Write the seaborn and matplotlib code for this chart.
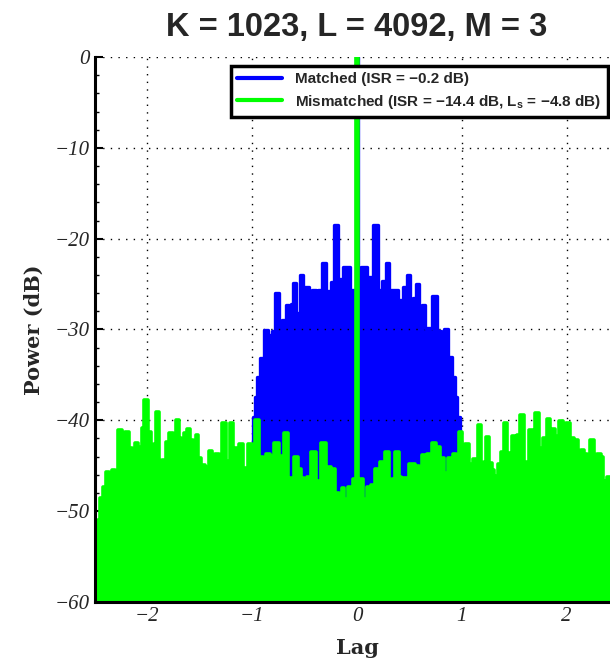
import numpy as np
import pandas as pd
import matplotlib
matplotlib.use("Agg")
import matplotlib.pyplot as plt
import seaborn as sns
from matplotlib.lines import Line2D

# matched filter output (blue)
matched_lag = [-1.000, -0.984, -0.960, -0.940, -0.910, -0.872, -0.831, -0.799, -0.764, -0.723,
               -0.700, -0.662, -0.640, -0.620, -0.599, -0.564, -0.525, -0.505, -0.481, -0.442,
               -0.408, -0.379, -0.357, -0.315, -0.267, -0.229, -0.201, -0.162, -0.099, -0.041,
               -0.016, 0.000, 0.016, 0.060, 0.131, 0.181, 0.229, 0.255, 0.290, 0.325,
               0.365, 0.420, 0.458, 0.497, 0.522, 0.545, 0.573, 0.605, 0.640, 0.665,
               0.697, 0.739, 0.783, 0.815, 0.847, 0.888, 0.923, 0.949, 0.962, 1.000]
matched_db = [-60.0, -39.6, -37.4, -35.2, -33.1, -30.1, -30.6, -30.2, -26.0, -29.3,
              -29.0, -27.3, -29.3, -27.2, -24.9, -28.2, -24.0, -28.2, -25.3, -26.5,
              -25.6, -27.7, -25.6, -22.7, -25.8, -24.8, -18.5, -24.4, -23.1, -25.7,
              -26.0, 0.0, -26.0, -23.1, -24.2, -18.5, -25.7, -24.7, -22.7, -25.6,
              -25.6, -26.8, -25.3, -24.0, -28.0, -26.5, -25.0, -29.3, -27.3, -29.8,
              -29.8, -26.3, -30.2, -30.7, -30.0, -33.0, -35.2, -37.4, -39.6, -60.0]

# mismatched filter output (green)
mismatched_lag = [-2.500, -2.485, -2.465, -2.445, -2.407, -2.378, -2.353, -2.327, -2.299, -2.264,
                  -2.229, -2.190, -2.155, -2.130, -2.104, -2.066, -2.044, -2.018, -1.977, -1.952,
                  -1.929, -1.897, -1.872, -1.843, -1.808, -1.773, -1.745, -1.716, -1.684, -1.665,
                  -1.636, -1.605, -1.576, -1.547, -1.525, -1.500, -1.468, -1.430, -1.394, -1.366,
                  -1.340, -1.302, -1.270, -1.235, -1.197, -1.172, -1.149, -1.111, -1.063, -1.015,
                  -0.990, -0.955, -0.907, -0.880, -0.857, -0.812, -0.767, -0.720, -0.672, -0.649,
                  -0.621, -0.586, -0.548, -0.513, -0.490, -0.458, -0.411, -0.380, -0.360, -0.322,
                  -0.271, -0.230, -0.188, -0.162, -0.131, -0.108, -0.064, -0.020, 0.000, 0.020,
                  0.035, 0.080, 0.108, 0.120, 0.150, 0.194, 0.239, 0.290, 0.325, 0.347,
                  0.385, 0.410, 0.430, 0.474, 0.522, 0.576, 0.600, 0.640, 0.688, 0.735,
                  0.777, 0.812, 0.844, 0.891, 0.936, 0.962, 0.990, 1.016, 1.054, 1.089,
                  1.127, 1.175, 1.200, 1.216, 1.248, 1.280, 1.300, 1.309, 1.328, 1.359,
                  1.385, 1.414, 1.445, 1.468, 1.497, 1.519, 1.541, 1.570, 1.614, 1.662,
                  1.691, 1.716, 1.757, 1.796, 1.831, 1.850, 1.875, 1.910, 1.948, 1.977,
                  2.015, 2.053, 2.098, 2.124, 2.146, 2.181, 2.200, 2.241, 2.276, 2.308,
                  2.340, 2.359, 2.369, 2.400, 2.430, 2.460, 2.485, 2.500]
mismatched_db = [-60.0, -56.0, -51.0, -48.6, -47.3, -45.7, -47.2, -45.5, -48.0, -41.1,
                 -42.2, -41.3, -43.1, -43.3, -42.5, -42.9, -40.9, -37.8, -41.3, -44.2,
                 -42.6, -39.1, -45.5, -44.4, -42.4, -41.4, -42.9, -40.0, -42.0, -44.6,
                 -41.4, -41.0, -42.2, -44.5, -41.6, -44.2, -44.9, -45.1, -43.4, -45.1,
                 -43.7, -44.9, -40.3, -44.5, -40.3, -47.5, -43.1, -42.6, -45.3, -42.6,
                 -43.5, -40.0, -44.0, -46.9, -43.7, -43.9, -42.5, -43.9, -41.4, -46.9,
                 -46.4, -44.0, -45.4, -46.4, -47.3, -46.2, -43.5, -46.9, -46.7, -42.5,
                 -45.1, -45.4, -48.0, -48.8, -47.5, -48.7, -47.3, -46.5, 0.0, -46.8,
                 -46.5, -48.7, -47.3, -50.5, -47.1, -45.4, -44.6, -43.5, -47.3, -46.5,
                 -43.5, -46.2, -46.3, -46.4, -44.8, -45.0, -46.1, -43.8, -43.7, -42.5,
                 -42.9, -44.2, -45.8, -44.2, -43.7, -44.9, -41.3, -45.5, -42.6, -44.8,
                 -44.3, -40.5, -46.2, -44.6, -41.8, -44.7, -45.5, -47.3, -46.1, -44.8,
                 -43.5, -40.3, -43.6, -44.9, -41.7, -43.4, -41.6, -39.4, -44.6, -41.1,
                 -43.1, -39.2, -43.1, -42.0, -39.8, -41.9, -41.0, -41.7, -40.1, -43.1,
                 -40.3, -41.9, -42.2, -44.7, -43.3, -43.7, -45.3, -42.2, -45.1, -43.7,
                 -44.0, -46.7, -48.0, -46.2, -47.5, -51.0, -56.0, -60.0]

title = "K = 1023, L = 4092, M = 3"
label_matched = "Matched (ISR = \u22120.2 dB)"
label_mismatched = "Mismatched (ISR = \u221214.4 dB, L$_\\mathbf{s}$ = \u22124.8 dB)"

sns.set_style("white")
plt.rcParams["font.family"] = ["Liberation Sans", "DejaVu Sans"]
plt.rcParams["mathtext.fontset"] = "custom"
plt.rcParams["mathtext.bf"] = "Liberation Sans:bold"
plt.rcParams["mathtext.rm"] = "Liberation Sans"

blue = "#0000ff"
green = "#00ff00"

df_m = pd.DataFrame({"lag": matched_lag, "db": matched_db})
df_mm = pd.DataFrame({"lag": mismatched_lag, "db": mismatched_db})

fig = plt.figure(figsize=(6.1, 6.67), dpi=100)
ax = fig.add_axes([0.1557, 0.0975, 0.859, 0.817])

ax.fill_between(df_m["lag"], df_m["db"], -60, step="mid", color=blue, lw=0, zorder=2)
sns.lineplot(data=df_m, x="lag", y="db", ax=ax, color=blue, lw=2.4,
             drawstyle="steps-mid", estimator=None, zorder=3)
ax.fill_between(df_mm["lag"], df_mm["db"], -60, step="mid", color=green, lw=0, zorder=4)
sns.lineplot(data=df_mm, x="lag", y="db", ax=ax, color=green, lw=2.6,
             drawstyle="steps-mid", estimator=None, zorder=5)

ax.set_xlim(-2.5, 2.5)
ax.set_ylim(-60, 0)
ax.set_xticks([-2, -1, 0, 1, 2])
ax.set_yticks([-60, -50, -40, -30, -20, -10, 0])
ax.set_xticks(np.arange(-2.4, 2.5, 0.2), minor=True)
ax.set_yticks(np.arange(-60, 1, 2), minor=True)
ax.grid(True, which="major", linestyle=(0, (1, 4.5)), color="black", lw=1.0, zorder=6)
ax.set_axisbelow(False)

for side in ["top", "right"]:
    ax.spines[side].set_visible(False)
for side in ["left", "bottom"]:
    ax.spines[side].set_color("black")
    ax.spines[side].set_linewidth(2.2)
    ax.spines[side].set_zorder(7)

ax.tick_params(which="major", direction="in", length=6, width=1.5, color="black")
ax.tick_params(which="minor", direction="in", length=3, width=1.0, color="black")
ax.tick_params(which="both", left=True, bottom=True, top=False, right=False)
for lab in ax.get_xticklabels() + ax.get_yticklabels():
    lab.set_fontfamily("Liberation Serif")
    lab.set_fontstyle("italic")
    lab.set_fontsize(15)

ax.set_xlabel("Lag", fontfamily="DejaVu Serif", fontweight="bold", fontsize=15, labelpad=9)
ax.set_ylabel("Power (dB)", fontfamily="DejaVu Serif", fontweight="bold", fontsize=15, labelpad=8)
ax.set_title(title, fontfamily="Liberation Sans", fontweight="bold", fontsize=23.5, pad=15)

handles = [Line2D([0], [0], color=blue, lw=3), Line2D([0], [0], color=green, lw=3)]
leg = ax.legend(handles, [label_matched, label_mismatched], loc="upper left",
                bbox_to_anchor=(0.26, 0.983), prop={"weight": "bold", "size": 11},
                frameon=True, fancybox=False, framealpha=1, edgecolor="black",
                handlelength=2.9, borderpad=0.4, labelspacing=0.4, handletextpad=0.9,
                borderaxespad=0)
leg.get_frame().set_linewidth(2.5)
leg.set_zorder(10)

fig.savefig("out.png", dpi=100)
